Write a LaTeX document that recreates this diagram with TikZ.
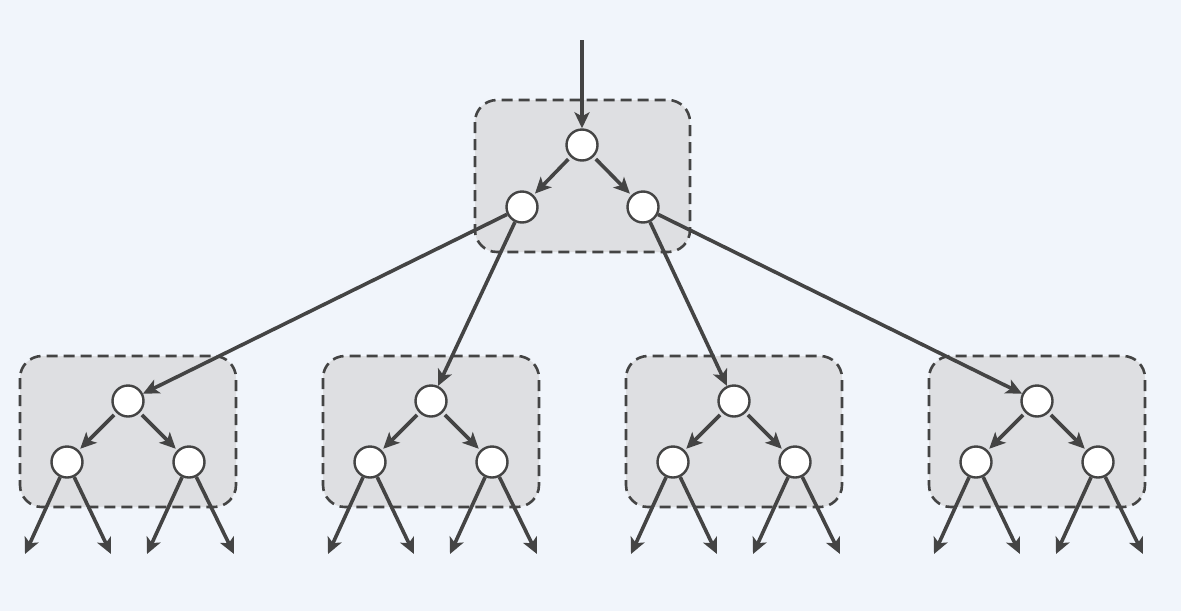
\documentclass[tikz,border=0pt]{standalone}
\usetikzlibrary{arrows.meta}
\definecolor{bgcol}{HTML}{F1F5FB}
\definecolor{boxfill}{HTML}{DEDFE2}
\definecolor{ink}{HTML}{444444}
\begin{document}
\begin{tikzpicture}[x=1pt,y=-1pt,
  vertex/.style={circle,draw=ink,fill=white,line width=2.4pt,minimum size=31pt,inner sep=0pt},
  group/.style={draw=ink,fill=boxfill,line width=2.6pt,dash pattern=on 11pt off 6pt,rounded corners=22pt},
  link/.style={draw=ink,line width=3.6pt,-{Stealth[length=16pt,width=15pt,inset=4pt]}},
  inner/.style={link,shorten <=3pt,shorten >=2pt}]
  % canvas
  \fill[bgcol] (0,0) rectangle (1181,611);
  \useasboundingbox (0,0) rectangle (1181,611);

  % top group
  \draw[group] (475,100) rectangle (690,252);
  \node[vertex] (r)  at (582,145) {};
  \node[vertex] (rl) at (522,207) {};
  \node[vertex] (rr) at (643,207) {};
  \coordinate (in) at (582,40);
  \draw[link] (in) -- (r);
  \draw[inner] (r) -- (rl);
  \draw[inner] (r) -- (rr);

  % lower groups
  \foreach \i/\dx in {1/0,2/303,3/606,4/909}{
    \begin{scope}[xshift=\dx]
      \draw[group] (20,356) rectangle (236,507);
      \node[vertex] (g\i)  at (128,401) {};
      \node[vertex] (g\i l) at (67,462) {};
      \node[vertex] (g\i r) at (189,462) {};
      \coordinate (o\i a) at (25,554);
      \coordinate (o\i b) at (111,554);
      \coordinate (o\i c) at (147,554);
      \coordinate (o\i d) at (234,554);
      \draw[inner] (g\i) -- (g\i l);
      \draw[inner] (g\i) -- (g\i r);
      \draw[link] (g\i l) -- (o\i a);
      \draw[link] (g\i l) -- (o\i b);
      \draw[link] (g\i r) -- (o\i c);
      \draw[link] (g\i r) -- (o\i d);
    \end{scope}
  }

  % links between levels
  \draw[link] (rl) -- (g1);
  \draw[link] (rl) -- (g2);
  \draw[link] (rr) -- (g3);
  \draw[link] (rr) -- (g4);
\end{tikzpicture}
\end{document}
